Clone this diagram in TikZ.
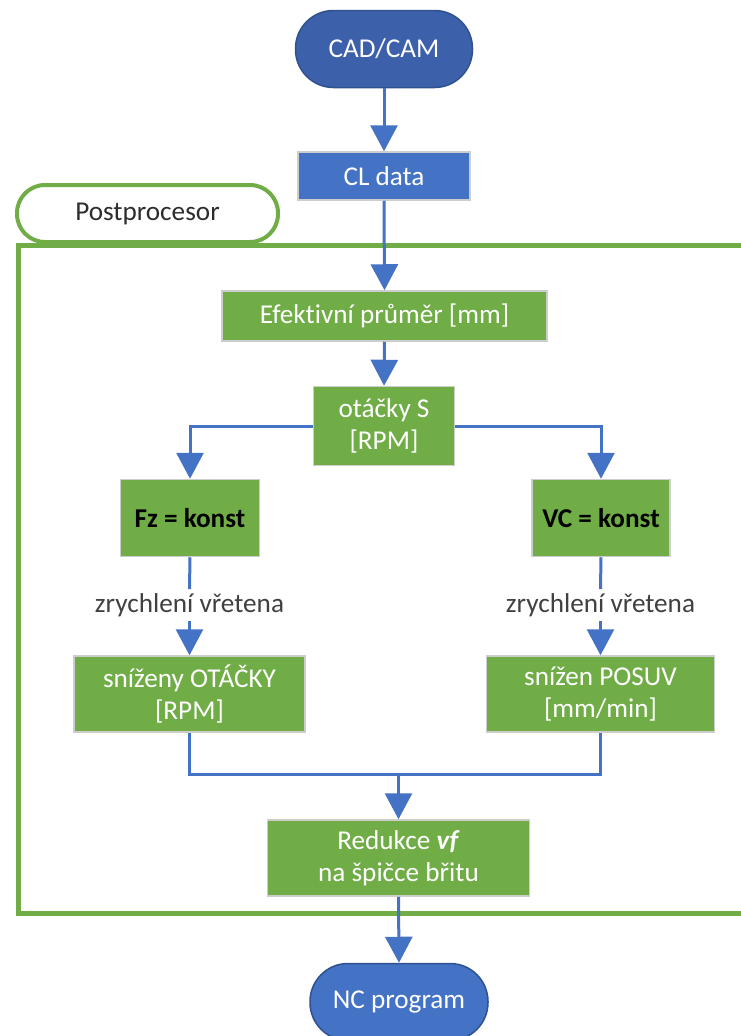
\documentclass[tikz,border=0pt]{standalone}
\usepackage{fontspec}
\setmainfont{Carlito}[Ligatures=NoCommon]
\usetikzlibrary{arrows.meta,positioning,calc}
\definecolor{cblue}{RGB}{68,114,196}
\definecolor{cdarkblue}{RGB}{61,96,170}
\definecolor{cblueborder}{RGB}{47,82,143}
\definecolor{cgreen}{RGB}{112,173,71}
\definecolor{cboxborder}{RGB}{205,205,205}
\definecolor{ctext}{RGB}{64,64,64}
\begin{document}
\begin{tikzpicture}[x=1pt,y=-1pt,
  basefont/.style={font=\fontsize{27.2}{32}\selectfont, align=center, inner sep=0pt},
  terminal/.style={basefont, fill=#1, draw=cblueborder, line width=1.5pt, text=white,
     rounded corners=38pt, minimum width=177pt, minimum height=77pt},
  bluebox/.style={basefont, fill=cblue, draw=cboxborder, line width=1.5pt, text=white},
  greenbox/.style={basefont, fill=cgreen, draw=cboxborder, line width=1.5pt, text=white},
  condbox/.style={basefont, fill=cgreen, draw=cboxborder, line width=1.5pt, text=black, font=\fontsize{27.2}{32}\selectfont\bfseries},
  edgelabel/.style={basefont, text=ctext, fill=white, inner ysep=4pt, inner xsep=2pt},
  conn/.style={draw=cblue, line width=3pt},
  arr/.style={conn, -{Triangle[width=27pt,length=26pt]}},
  frameline/.style={draw=cgreen, line width=5pt}
]
\clip (0,0) rectangle (741,1036);
\useasboundingbox (0,0) rectangle (741,1036);

% Postprocesor frame and tab
\draw[frameline] (18,245) rectangle (780,913);
\node[basefont, draw=cgreen, line width=4pt, fill=white, rounded corners=28pt,
      minimum width=261pt, minimum height=57pt, text=ctext!70!black] (tab) at (147.5,213.5) {Postprocesor};

% nodes
\node[terminal=cdarkblue] (cad) at (384,49) {CAD/CAM};
\node[bluebox, minimum width=172pt, minimum height=48pt] (cl) at (384,176) {CL data};
\node[greenbox, minimum width=325pt, minimum height=50pt] (eff) at (384.5,316) {Efektivní průměr [mm]};
\node[greenbox, minimum width=141pt, minimum height=79pt] (ot) at (384,426) {otáčky S\\{}[RPM]};
\node[condbox, minimum width=139pt, minimum height=77pt] (fz) at (190,518) {Fz = konst};
\node[condbox, minimum width=138pt, minimum height=77pt] (vc) at (601,518) {VC = konst};
\node[edgelabel] (lab1) at (189.5,605) {zrychlení vřetena};
\node[edgelabel] (lab2) at (600.5,605) {zrychlení vřetena};
\node[greenbox, minimum width=231pt, minimum height=76pt] (sr) at (189.5,694) {sníženy OTÁČKY\\{}[RPM]};
\node[greenbox, minimum width=228pt, minimum height=76pt] (sp) at (600.5,694) {snížen POSUV\\{}[mm/min]};
\coordinate (m) at (398.5,774);
\node[greenbox, minimum width=262pt, minimum height=76pt] (red) at (398.5,858) {Redukce \textbf{\textit{vf}}\\na špičce břitu};
\node[terminal=cblue, minimum width=178pt] (nc) at (399,1002) {NC program};

% connectors
\draw[arr] (cad.south) -- (cl.north);
\draw[arr] (cl.south) -- (eff.north);
\draw[arr] (eff.south) -- (ot.north);
\draw[arr] (ot.west) -| (fz.north);
\draw[arr] (ot.east) -| (vc.north);
\draw[conn] (fz.south) -- (lab1.north);
\draw[arr] (lab1.south) -- (sr.north);
\draw[conn] (vc.south) -- (lab2.north);
\draw[arr] (lab2.south) -- (sp.north);
\draw[conn] (sr.south) |- (m);
\draw[conn] (sp.south) |- (m);
\draw[arr] (m) -- (red.north);
\draw[arr] (red.south) -- (nc.north);
\end{tikzpicture}
\end{document}
